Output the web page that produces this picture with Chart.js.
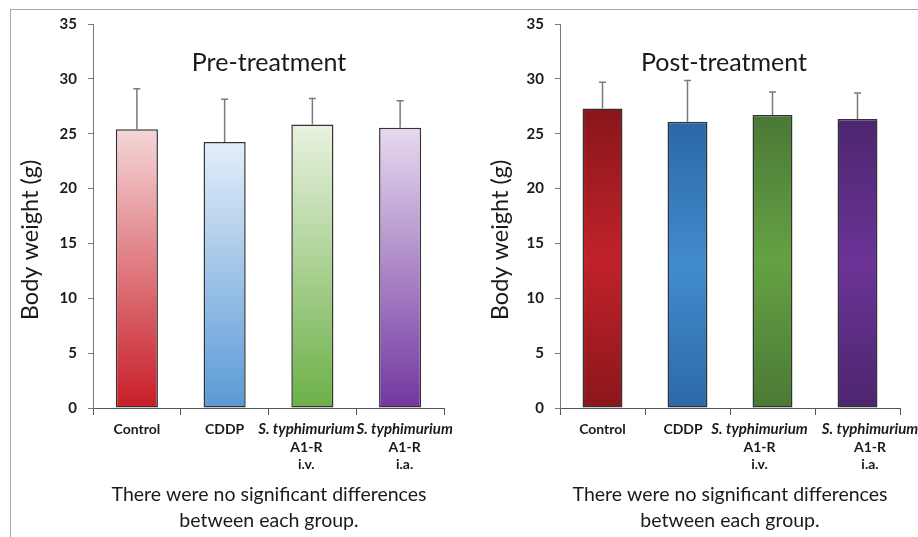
<!DOCTYPE html>
<html>
<head>
<meta charset="utf-8">
<script src="https://cdn.jsdelivr.net/npm/chart.js@4.4.0/dist/chart.umd.min.js"></script>
<style>
  html, body { margin: 0; padding: 0; background: #fff; width: 918px; height: 537px; overflow: hidden; }
  .frame { position: absolute; left: 10px; top: 9px; width: 920px; height: 540px;
           border-top: 1.5px solid #a8a8a8; border-left: 1.5px solid #a8a8a8; }
  .panel { position: absolute; top: 0; width: 459px; height: 537px; }
</style>
</head>
<body>
<div class="frame"></div>
<div class="panel" style="left:0"><canvas id="pre"></canvas></div>
<div class="panel" style="left:459px"><canvas id="post"></canvas></div>
<script>
// groups (x categories), one label line per array entry; first line of the Salmonella groups is italic
const groups = [
  ['Control'],
  ['CDDP'],
  ['S. typhimurium', 'A1-R', 'i.v.'],
  ['S. typhimurium', 'A1-R', 'i.a.']
];
const preMean = [25.4, 24.25, 25.85, 25.55];
const preSD = [3.7, 3.9, 2.35, 2.45];
const postMean = [27.3, 26.1, 26.7, 26.35];
const postSD = [2.4, 3.75, 2.1, 2.35];
const yMin = 0, yMax = 35, yStep = 5;
const yTitle = 'Body weight (g)';
const note = ['There were no significant differences', 'between each group.'];

const FONT = 'Lato, "Open Sans", sans-serif';

// light -> saturated (pre) and dark-bright-dark (post) colours per group
const preColors = [['#f5d6d8', '#c81d27'], ['#e4eef9', '#5a99d6'], ['#e9f2e0', '#6cb047'], ['#e6daef', '#7336a0']];
const postColors = [['#89161a', '#c1222a', '#8a171b'], ['#2a68a8', '#428ccc', '#2b69a9'],
                    ['#4a7936', '#65a144', '#4a7935'], ['#4c266e', '#6b3397', '#4c266d']];

function barFill(colors, values) {
  return function (ctx) {
    const chart = ctx.chart;
    const y = chart.scales.y;
    const c = colors[ctx.dataIndex];
    if (!chart.chartArea || !y) return c[c.length - 1];
    const top = y.getPixelForValue(values[ctx.dataIndex]);
    const bottom = y.getPixelForValue(0);
    const g = chart.ctx.createLinearGradient(0, top, 0, bottom);
    c.forEach((col, i) => g.addColorStop(i / (c.length - 1), col));
    return g;
  };
}

// error bars, x labels and the free text of each panel
const extras = {
  id: 'extras',
  afterDatasetsDraw(chart, args, opts) {
    const ctx = chart.ctx;
    const y = chart.scales.y;
    const meta = chart.getDatasetMeta(0);
    ctx.save();
    ctx.strokeStyle = '#7a7a7a';
    ctx.lineWidth = 1.5;
    meta.data.forEach((bar, i) => {
      const top = y.getPixelForValue(opts.mean[i]);
      const end = y.getPixelForValue(opts.mean[i] + opts.sd[i]);
      ctx.beginPath();
      ctx.moveTo(bar.x, top);
      ctx.lineTo(bar.x, end);
      ctx.moveTo(bar.x - 3.5, end);
      ctx.lineTo(bar.x + 3.5, end);
      ctx.stroke();
    });
    ctx.restore();
  },
  afterDraw(chart, args, opts) {
    const ctx = chart.ctx;
    const x = chart.scales.x;
    ctx.save();
    ctx.fillStyle = '#1a1a1a';
    ctx.textAlign = 'center';
    ctx.textBaseline = 'alphabetic';
    groups.forEach((lines, i) => {
      const cx = x.getPixelForValue(i) + opts.shift[i];
      lines.forEach((t, j) => {
        ctx.font = (t.startsWith('S. ') ? 'italic bold 15px ' : 'bold 14px ') + FONT;
        ctx.fillText(t, cx, 434 + j * 17.5);
      });
    });
    ctx.font = '25px ' + FONT;
    ctx.fillText(opts.title, opts.titleX, 71);
    ctx.font = '19.5px ' + FONT;
    ctx.fillText(note[0], opts.noteX, 501);
    ctx.fillText(note[1], opts.noteX, 527);
    ctx.translate(opts.yTitleX, 240);
    ctx.rotate(-Math.PI / 2);
    ctx.font = '23.5px ' + FONT;
    ctx.fillText(yTitle, 0, 0);
    ctx.restore();
  }
};

function makeChart(id, mean, sd, colors, o) {
  return new Chart(document.getElementById(id), {
    type: 'bar',
    data: {
      labels: groups.map(g => g.join(' ')),
      datasets: [{
        data: mean,
        backgroundColor: barFill(colors, mean),
        borderColor: '#333',
        borderWidth: 1.5,
        borderSkipped: false,
        categoryPercentage: 1,
        barPercentage: o.barPct
      }]
    },
    options: {
      responsive: true,
      maintainAspectRatio: false,
      animation: false,
      events: [],
      layout: { padding: { left: 0, right: o.padRight, top: 24, bottom: 0 } },
      plugins: {
        legend: { display: false },
        tooltip: { enabled: false },
        extras: { mean: mean, sd: sd, title: o.title, titleX: o.titleX, noteX: o.noteX,
                  yTitleX: o.yTitleX, shift: o.shift }
      },
      scales: {
        x: {
          afterFit(s) { s.height = 129; },
          ticks: { display: false },
          grid: { offset: true, drawOnChartArea: false, drawTicks: true, tickLength: 7, color: '#555', lineWidth: 1 },
          border: { color: '#555', width: 1 }
        },
        y: {
          min: yMin, max: yMax,
          afterFit(s) { s.width = o.yWidth; },
          ticks: { stepSize: yStep, padding: 11, color: '#1a1a1a', font: { family: FONT, size: 15, weight: 'bold' } },
          grid: { drawOnChartArea: false, drawTicks: true, tickLength: 5, color: '#777' },
          border: { color: '#777', width: 1 }
        }
      }
    },
    plugins: [extras]
  });
}

makeChart('pre', preMean, preSD, preColors,
  { yWidth: 93, padRight: 15, barPct: 0.48, title: 'Pre-treatment', titleX: 269, noteX: 269, yTitleX: 38,
    shift: [0, 0, -6, 4.5] });
makeChart('post', postMean, postSD, postColors,
  { yWidth: 101, padRight: 18, barPct: 0.47, title: 'Post-treatment', titleX: 265, noteX: 271, yTitleX: 49,
    shift: [0, -4.5, -13, 12.5] });
</script>
</body>
</html>
